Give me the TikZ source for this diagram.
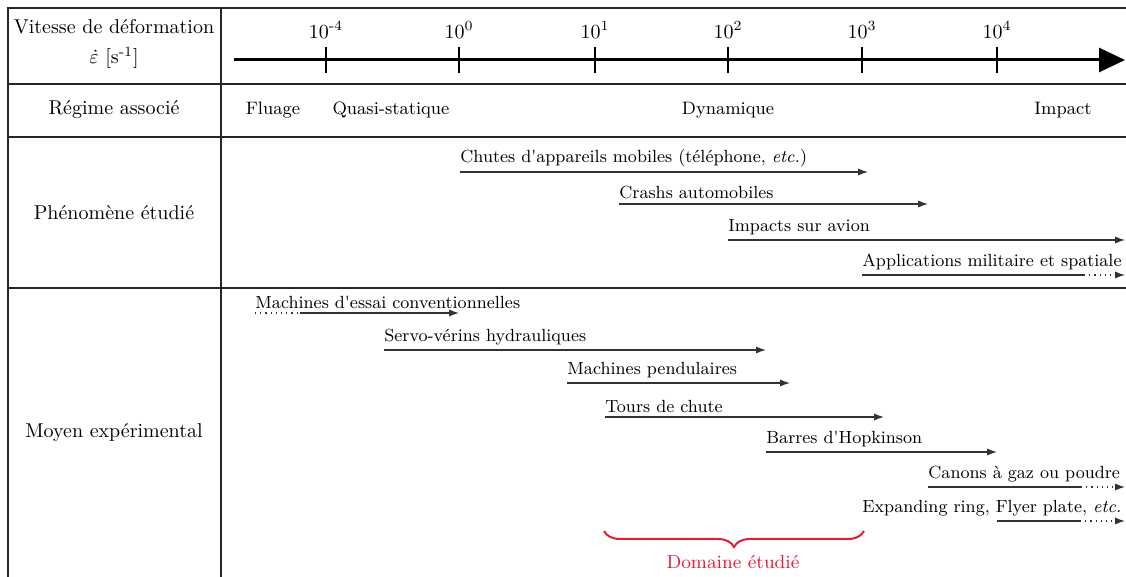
\documentclass[tikz,border=0pt]{standalone}
\usetikzlibrary{arrows.meta,decorations.pathreplacing}
\definecolor{domred}{RGB}{228,28,52}
\newcommand{\apos}{\textquotesingle}
\newcommand{\rngfont}{\fontsize{8.8}{10.5}\selectfont}
\begin{document}
\begin{tikzpicture}[x=0.5pt,y=-0.5pt,
  tbl/.style={line width=1pt, black!85},
  rowlbl/.style={inner sep=0pt, align=center},
  reg/.style={inner sep=0pt, font=\small},
  ticklbl/.style={inner sep=0pt},
  txt/.style={anchor=south west, inner xsep=0pt, inner ysep=2.2pt, font=\rngfont},
  rng/.style={line width=0.6pt, black!80},
  rngtip/.style={rng, -{Latex[length=5pt,width=3.6pt]}},
  rngdot/.style={rngtip, dotted, line width=0.6pt}]
\useasboundingbox (0,0) rectangle (1126,577);
\clip (0,0) rectangle (1126,577);
% table
\draw[tbl] (1130,8) -- (8,8) -- (8,580);
\draw[tbl] (221,8) -- (221,580);
\draw[tbl] (8,84) -- (1130,84);
\draw[tbl] (8,137) -- (1130,137);
\draw[tbl] (8,288) -- (1130,288);
% row labels
\node[rowlbl] (r1) at (114,44) {Vitesse de déformation\\[3pt] $\dot{\varepsilon}$ [s\textsuperscript{-1}]};
\node[rowlbl] (r2) at (114,110) {Régime associé};
\node[rowlbl] (r3) at (114,213) {Phénomène étudié};
\node[rowlbl] (r4) at (114,433) {Moyen expérimental};
% axis
\coordinate (ax0) at (234,60);
\coordinate (ax1) at (1125,60);
\draw[line width=1.5pt, -{Triangle[length=13pt,width=12pt]}] (ax0) -- (ax1);
\foreach \xx/\ee/\nn in {326/-4/a,459/0/b,595/1/c,728/2/d,862/3/e,997/4/f}{
  \draw[line width=1pt] (\xx,47) -- (\xx,73);
  \node[ticklbl] (tick\nn) at (\xx,30) {10\textsuperscript{\ee}};
}
% regimes
\node[reg] (fluage) at (273,110) {Fluage};
\node[reg] (quasi) at (391,110) {Quasi-statique};
\node[reg] (dyn) at (728,110) {Dynamique};
\node[reg] (imp) at (1063,110) {Impact};
% phenomena
\coordinate (p1s) at (460,172); \coordinate (p1e) at (868,172);
\node[txt] (p1) at (p1s) {Chutes d\apos appareils mobiles (téléphone, \textit{etc.})};
\draw[rngtip] (p1s) -- (p1e);
\coordinate (p2s) at (619,204); \coordinate (p2e) at (928,204);
\node[txt] (p2) at (p2s) {Crashs automobiles};
\draw[rngtip] (p2s) -- (p2e);
\coordinate (p3s) at (728,240); \coordinate (p3e) at (1125,240);
\node[txt] (p3) at (p3s) {Impacts sur avion};
\draw[rngtip] (p3s) -- (p3e);
\coordinate (p4s) at (862,275); \coordinate (p4m) at (1084,275); \coordinate (p4e) at (1125,275);
\node[txt] (p4) at (p4s) {Applications militaire et spatiale};
\draw[rng] (p4s) -- (p4m);
\draw[rngdot] (p4m) -- (p4e);
% experimental means
\coordinate (m1s) at (255,313); \coordinate (m1m) at (300,313); \coordinate (m1e) at (459,313);
\node[txt] (m1) at (m1s) {Machines d\apos essai conventionnelles};
\draw[rng, dotted] (m1s) -- (m1m);
\draw[rngtip] (m1m) -- (m1e);
\coordinate (m2s) at (384,350); \coordinate (m2e) at (766,350);
\node[txt] (m2) at (m2s) {Servo-vérins hydrauliques};
\draw[rngtip] (m2s) -- (m2e);
\coordinate (m3s) at (567,383); \coordinate (m3e) at (790,383);
\node[txt] (m3) at (m3s) {Machines pendulaires};
\draw[rngtip] (m3s) -- (m3e);
\coordinate (m4s) at (605,417); \coordinate (m4e) at (884,417);
\node[txt] (m4) at (m4s) {Tours de chute};
\draw[rngtip] (m4s) -- (m4e);
\coordinate (m5s) at (766,452); \coordinate (m5e) at (997,452);
\node[txt] (m5) at (m5s) {Barres d\apos Hopkinson};
\draw[rngtip] (m5s) -- (m5e);
\coordinate (m6s) at (928,487); \coordinate (m6m) at (1081,487); \coordinate (m6e) at (1125,487);
\node[txt] (m6) at (m6s) {Canons à gaz ou poudre};
\draw[rng] (m6s) -- (m6m);
\draw[rngdot] (m6m) -- (m6e);
\coordinate (m7t) at (862,521); \coordinate (m7s) at (997,521); \coordinate (m7m) at (1080,521); \coordinate (m7e) at (1125,521);
\node[txt] (m7) at (m7t) {Expanding ring, Flyer plate, \textit{etc.}};
\draw[rng] (m7s) -- (m7m);
\draw[rngdot] (m7m) -- (m7e);
% studied domain
\coordinate (b0) at (604,531); \coordinate (b1) at (864,531);
\draw[domred, line width=1pt, decorate, decoration={brace, mirror, amplitude=8pt}] (b0) -- (b1);
\node[reg, text=domred, font=\fontsize{9.4}{11}\selectfont] (dom) at (733,562) {Domaine étudié};
\end{tikzpicture}
\end{document}
